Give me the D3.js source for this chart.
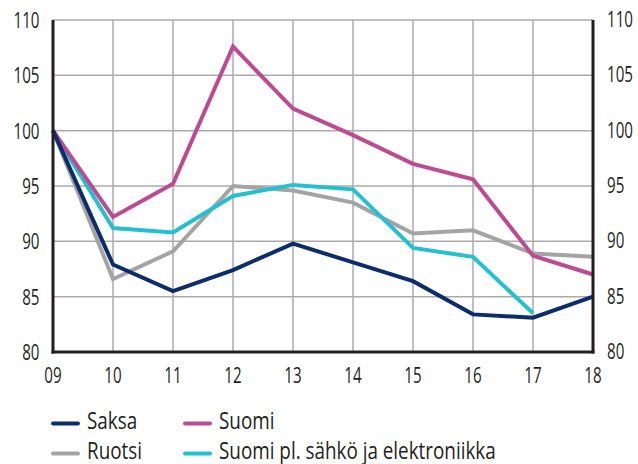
<!DOCTYPE html>
<html><head><meta charset="utf-8">
<script src="https://cdn.jsdelivr.net/npm/d3@7"></script>
<style>body{margin:0;background:#fff}svg{display:block}text{font-family:"Open Sans",sans-serif;fill:#231f20}</style>
</head><body>
<svg id="c" width="638" height="464"></svg>
<script>
const years = ["09","10","11","12","13","14","15","16","17","18"];
const yTicks = [80,85,90,95,100,105,110];
const saksa  = [100,87.9,85.5,87.4,89.8,88.1,86.4,83.4,83.1,85.0];
const ruotsi = [100,86.6,89.1,95.0,94.6,93.5,90.7,91.0,88.9,88.6];
const suomi  = [100,92.2,95.2,107.6,102.0,99.6,97.0,95.6,88.7,87.0];
const suomiPl = [100,91.2,90.8,94.1,95.1,94.7,89.4,88.6,83.5,null];
const seriesNames = ["Saksa","Ruotsi","Suomi","Suomi pl. sähkö ja elektroniikka"];
const colors = ["#0b2d6b","#a5a3a3","#bd4b92","#22c0d0"];
const seriesData = [saksa, ruotsi, suomi, suomiPl];

const svg = d3.select("#c");
const L=53, R=593, T=20, B=352;
const x = d3.scalePoint().domain(years).range([L,R]);
const y = d3.scaleLinear().domain([80,110]).range([B,T]);

// grid
const g = svg.append("g");
g.selectAll(".hg").data(yTicks).join("line")
  .attr("x1",L).attr("x2",R).attr("y1",d=>y(d)).attr("y2",d=>y(d))
  .attr("stroke","#ababab").attr("stroke-width",1.5);
g.selectAll(".vg").data(years).join("line")
  .attr("x1",d=>x(d)).attr("x2",d=>x(d)).attr("y1",T).attr("y2",B)
  .attr("stroke","#ababab").attr("stroke-width",1.5);

// lines
const line = d3.line().defined(d=>d.v!=null).x(d=>x(d.k)).y(d=>y(d.v));
[1,3,2,0].forEach(i=>{
  svg.append("path")
    .datum(years.map((k,j)=>({k,v:seriesData[i][j]})))
    .attr("d",line).attr("fill","none").attr("stroke",colors[i])
    .attr("stroke-width",4).attr("stroke-linejoin","miter");
});

// axes lines
svg.append("line").attr("x1",L).attr("x2",L).attr("y1",T).attr("y2",B+1.5).attr("stroke","#231f20").attr("stroke-width",3);
svg.append("line").attr("x1",R).attr("x2",R).attr("y1",T).attr("y2",B+1.5).attr("stroke","#231f20").attr("stroke-width",3);
svg.append("line").attr("x1",L-1.5).attr("x2",R+1.5).attr("y1",B).attr("y2",B).attr("stroke","#231f20").attr("stroke-width",3);

// measure condensing factors
function measure(str,fs){
  const t = svg.append("text").attr("font-size",fs).text(str);
  const w = t.node().getComputedTextLength(); t.remove(); return w;
}
const fsNum = 22.5, fsLeg = 23;
const kNum = 26 / measure("110",fsNum);
const kLeg = 277 / measure(seriesNames[3],fsLeg);

function label(px,py,str,anchor,k,fs){
  svg.append("text").attr("transform",`translate(${px},${py}) scale(${k},1)`)
    .attr("text-anchor",anchor).attr("font-size",fs).text(str);
}
yTicks.forEach(d=>{
  label(39.5, y(d)+8, d, "end", kNum, fsNum);
  label(607, y(d)+7, d, "start", kNum, fsNum);
});
years.forEach(d=> label(x(d), 382.5, d, "middle", kNum, fsNum));

// legend
const legPos = [[53,423.5],[53,453.5],[185,423.5],[185,453.5]];
seriesNames.forEach((n,i)=>{
  const [lx,ly] = legPos[i];
  svg.append("line").attr("x1",lx).attr("x2",lx+25).attr("y1",ly).attr("y2",ly)
    .attr("stroke",colors[i]).attr("stroke-width",4).attr("stroke-linecap","round");
  label(lx+34, ly+5, n, "start", kLeg, fsLeg);
});
</script>
</body></html>
